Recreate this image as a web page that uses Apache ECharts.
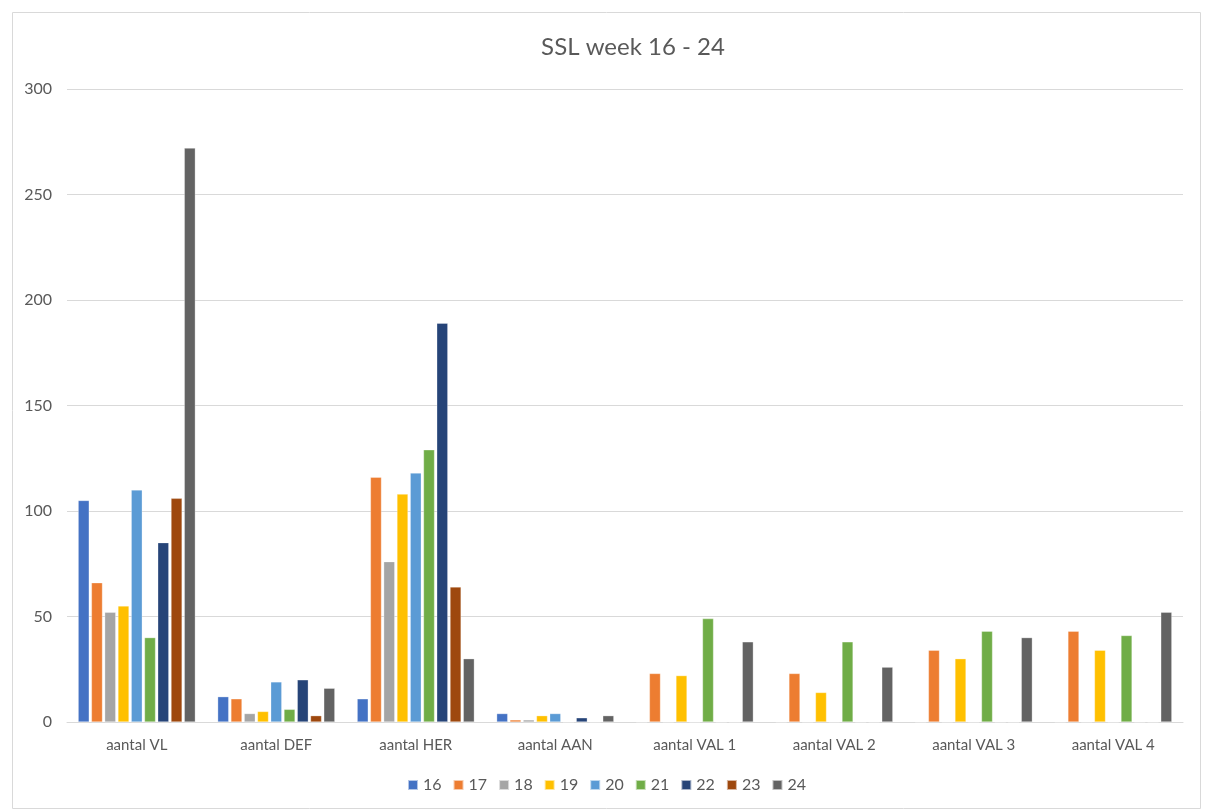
<!DOCTYPE html>
<html>
<head>
<meta charset="utf-8">
<script src="https://cdn.jsdelivr.net/npm/echarts@6/dist/echarts.min.js"></script>
<style>
html, body { margin: 0; padding: 0; background: #fff; }
#js-bar { width: 1213px; height: 810px; }
</style>
</head>
<body>
<div id="js-bar"></div>
<script>
var categories = ['aantal VL', 'aantal DEF', 'aantal HER', 'aantal AAN', 'aantal VAL 1', 'aantal VAL 2', 'aantal VAL 3', 'aantal VAL 4'];
var weeks = ['16', '17', '18', '19', '20', '21', '22', '23', '24'];
var yTicks = [0, 50, 100, 150, 200, 250, 300];

var week16 = [105, 12, 11, 4, 0, 0, 0, 0];
var week17 = [66, 11, 116, 1, 23, 23, 34, 43];
var week18 = [52, 4, 76, 1, 0, 0, 0, 0];
var week19 = [55, 5, 108, 3, 22, 14, 30, 34];
var week20 = [110, 19, 118, 4, 0, 0, 0, 0];
var week21 = [40, 6, 129, 0, 49, 38, 43, 41];
var week22 = [85, 20, 189, 2, 0, 0, 0, 0];
var week23 = [106, 3, 64, 0, 0, 0, 0, 0];
var week24 = [272, 16, 30, 3, 38, 26, 40, 52];

var weekData = [week16, week17, week18, week19, week20, week21, week22, week23, week24];
var colors = ['#4472C4', '#ED7D31', '#A5A5A5', '#FFC000', '#5B9BD5', '#70AD47', '#264478', '#9E480E', '#636363'];

var font = 'Lato, "Open Sans", sans-serif';

var barChart = echarts.init(document.getElementById('js-bar'));
var barOption = {
    color: colors,
    animation: false,
    title: {
        text: 'SSL week 16 - 24',
        left: 628,
        textAlign: 'center',
        top: 30,
        textStyle: {
            fontFamily: font,
            fontSize: 24,
            fontWeight: 'normal',
            color: '#595959'
        }
    },
    graphic: [{
        type: 'rect',
        shape: { x: 12.5, y: 12.5, width: 1188, height: 796 },
        style: { fill: 'none', stroke: '#d9d9d9', lineWidth: 1 },
        silent: true
    }],
    legend: {
        data: weeks,
        bottom: 12,
        left: 'center',
        itemWidth: 10,
        itemHeight: 10,
        itemGap: 11,
        icon: 'rect',
        textStyle: {
            fontFamily: font,
            fontSize: 16,
            color: '#595959'
        }
    },
    grid: {
        left: 67,
        right: 30,
        top: 89,
        bottom: 88
    },
    xAxis: {
        type: 'category',
        data: categories,
        axisLine: { lineStyle: { color: '#d9d9d9', width: 1 } },
        axisTick: { show: false },
        axisLabel: {
            fontFamily: font,
            fontSize: 15,
            color: '#595959',
            margin: 16
        }
    },
    yAxis: {
        type: 'value',
        min: yTicks[0],
        max: yTicks[yTicks.length - 1],
        interval: yTicks[1] - yTicks[0],
        axisLine: { show: false },
        axisTick: { show: false },
        splitLine: { lineStyle: { color: '#d9d9d9', width: 1 } },
        axisLabel: {
            fontFamily: font,
            fontSize: 16,
            color: '#595959',
            margin: 15
        }
    },
    series: weeks.map(function (w, i) {
        return {
            name: w,
            type: 'bar',
            data: weekData[i],
            barGap: '20%',
            barCategoryGap: '16%',
            itemStyle: {
                borderColor: 'rgba(255,255,255,0.6)',
                borderWidth: 0.5
            }
        };
    })
};
barChart.setOption(barOption);
</script>
</body>
</html>
